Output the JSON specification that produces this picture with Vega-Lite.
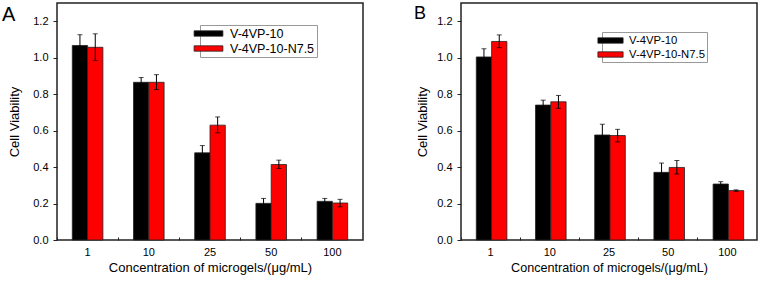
{
  "$schema": "https://vega.github.io/schema/vega-lite/v6.json",
  "padding": {"left": 1, "top": 2, "right": 2, "bottom": 0},
  "spacing": 49,
  "background": "white",
  "config": {
    "font": "Liberation Sans",
    "view": {"stroke": "#222", "strokeWidth": 1.5},
    "axis": {"domain": false, "grid": false, "labelColor": "#000", "titleColor": "#000", "tickColor": "#222", "labelFont": "Liberation Sans", "titleFont": "Liberation Sans", "titleFontWeight": "normal"},
    "axisY": {"labelOverlap": false, "titleFontSize": 13, "labelFontSize": 11, "labelPadding": 5,
      "values": [0, 0.1, 0.2, 0.3, 0.4, 0.5, 0.6, 0.7, 0.8, 0.9, 1.0, 1.1, 1.2],
      "labelExpr": "round(datum.value*10) % 2 == 0 ? format(datum.value, '.1f') : ''",
      "tickSize": {"condition": {"test": "round(datum.value*10) % 2 == 0", "value": 4}, "value": 2}},
    "title": {"font": "Liberation Sans", "fontWeight": "normal", "color": "#000"}
  },
  "resolve": {"scale": {"color": "independent", "y": "independent", "x": "independent"}, "legend": {"color": "independent"}},
  "hconcat": [
    {
      "width": 306,
      "height": 237,
      "title": {"text": "A", "anchor": "start", "frame": "group", "offset": -22, "dx": -55, "fontSize": 20},
      "data": {"values": [
        {"conc": "1", "series": "V-4VP-10", "value": 1.067, "lo": 1.008, "hi": 1.126},
        {"conc": "1", "series": "V-4VP-10-N7.5", "value": 1.057, "lo": 0.984, "hi": 1.131},
        {"conc": "10", "series": "V-4VP-10", "value": 0.865, "lo": 0.839, "hi": 0.891},
        {"conc": "10", "series": "V-4VP-10-N7.5", "value": 0.865, "lo": 0.825, "hi": 0.907},
        {"conc": "25", "series": "V-4VP-10", "value": 0.478, "lo": 0.438, "hi": 0.518},
        {"conc": "25", "series": "V-4VP-10-N7.5", "value": 0.63, "lo": 0.588, "hi": 0.675},
        {"conc": "50", "series": "V-4VP-10", "value": 0.201, "lo": 0.174, "hi": 0.228},
        {"conc": "50", "series": "V-4VP-10-N7.5", "value": 0.414, "lo": 0.392, "hi": 0.438},
        {"conc": "100", "series": "V-4VP-10", "value": 0.212, "lo": 0.196, "hi": 0.228},
        {"conc": "100", "series": "V-4VP-10-N7.5", "value": 0.203, "lo": 0.182, "hi": 0.223}
      ]},
      "encoding": {
        "x": {"field": "conc", "type": "nominal", "sort": ["1", "10", "25", "50", "100"],
          "scale": {"paddingInner": 0, "paddingOuter": 0},
          "axis": {"title": "Concentration of microgels/(μg/mL)", "labelAngle": 0, "labelFontSize": 11, "titleFontSize": 13, "labelPadding": 9, "titlePadding": 4, "bandPosition": 0, "tickSize": -3, "tickWidth": 1}},
        "xOffset": {"field": "series", "type": "nominal", "scale": {"paddingInner": 0, "paddingOuter": 1.45}}
      },
      "layer": [
        {
          "mark": {"type": "bar", "stroke": "#222", "strokeWidth": 0.8},
          "encoding": {
            "y": {"field": "value", "type": "quantitative", "scale": {"domain": [0, 1.3], "nice": false}, "axis": {"title": "Cell Viability", "titlePadding": 11, "labelOverlap": false}},
            "color": {"field": "series", "type": "nominal",
              "scale": {"domain": ["V-4VP-10", "V-4VP-10-N7.5"], "range": ["#000000", "#ff0000"]},
              "legend": {"title": null, "orient": "none", "legendX": 143, "legendY": 22, "symbolType": "M-2.4,-0.45H2.4V0.45H-2.4Z", "symbolSize": 144, "symbolStrokeColor": "#222", "symbolStrokeWidth": 0.8, "symbolOpacity": 1, "labelFontSize": 12.5, "labelColor": "#000", "labelOffset": 15, "rowPadding": 2, "padding": 2, "strokeColor": "#999", "fillColor": "white"}}
          }
        },
        {
          "mark": {"type": "rule", "color": "#000", "strokeWidth": 1},
          "encoding": {"y": {"field": "lo", "type": "quantitative", "axis": {"title": "Cell Viability", "titlePadding": 11, "labelOverlap": false}}, "y2": {"field": "hi"}}
        },
        {
          "mark": {"type": "tick", "color": "#000", "orient": "horizontal", "size": 5, "thickness": 1},
          "encoding": {"y": {"field": "hi", "type": "quantitative", "axis": {"title": "Cell Viability", "titlePadding": 11, "labelOverlap": false}}}
        },
        {
          "mark": {"type": "tick", "color": "#000", "orient": "horizontal", "size": 5, "thickness": 1},
          "encoding": {"y": {"field": "lo", "type": "quantitative", "axis": {"title": "Cell Viability", "titlePadding": 11, "labelOverlap": false}}}
        }
      ]
    },
    {
      "width": 296,
      "height": 237,
      "title": {"text": "B", "anchor": "start", "frame": "group", "offset": -20, "dx": -47, "fontSize": 18},
      "data": {"values": [
        {"conc": "1", "series": "V-4VP-10", "value": 1.004, "lo": 0.959, "hi": 1.049},
        {"conc": "1", "series": "V-4VP-10-N7.5", "value": 1.089, "lo": 1.055, "hi": 1.125},
        {"conc": "10", "series": "V-4VP-10", "value": 0.74, "lo": 0.713, "hi": 0.767},
        {"conc": "10", "series": "V-4VP-10-N7.5", "value": 0.758, "lo": 0.722, "hi": 0.793},
        {"conc": "25", "series": "V-4VP-10", "value": 0.576, "lo": 0.517, "hi": 0.635},
        {"conc": "25", "series": "V-4VP-10-N7.5", "value": 0.573, "lo": 0.538, "hi": 0.607},
        {"conc": "50", "series": "V-4VP-10", "value": 0.371, "lo": 0.32, "hi": 0.422},
        {"conc": "50", "series": "V-4VP-10-N7.5", "value": 0.398, "lo": 0.362, "hi": 0.436},
        {"conc": "100", "series": "V-4VP-10", "value": 0.307, "lo": 0.294, "hi": 0.32},
        {"conc": "100", "series": "V-4VP-10-N7.5", "value": 0.271, "lo": 0.267, "hi": 0.275}
      ]},
      "encoding": {
        "x": {"field": "conc", "type": "nominal", "sort": ["1", "10", "25", "50", "100"],
          "scale": {"paddingInner": 0, "paddingOuter": 0},
          "axis": {"title": "Concentration of microgels/(μg/mL)", "labelAngle": 0, "labelFontSize": 11, "titleFontSize": 12.6, "labelPadding": 9, "titlePadding": 4, "bandPosition": 0, "tickSize": -3, "tickWidth": 1}},
        "xOffset": {"field": "series", "type": "nominal", "scale": {"paddingInner": 0, "paddingOuter": 1.4}}
      },
      "layer": [
        {
          "mark": {"type": "bar", "stroke": "#222", "strokeWidth": 0.8},
          "encoding": {
            "y": {"field": "value", "type": "quantitative", "scale": {"domain": [0, 1.3], "nice": false}, "axis": {"title": "Cell Viability", "titlePadding": 7, "labelOverlap": false}},
            "color": {"field": "series", "type": "nominal",
              "scale": {"domain": ["V-4VP-10", "V-4VP-10-N7.5"], "range": ["#000000", "#ff0000"]},
              "legend": {"title": null, "orient": "none", "legendX": 141, "legendY": 29, "symbolType": "M-2.1,-0.45H2.1V0.45H-2.1Z", "symbolSize": 144, "symbolStrokeColor": "#222", "symbolStrokeWidth": 0.8, "symbolOpacity": 1, "labelFontSize": 11.3, "labelColor": "#000", "labelOffset": 12, "rowPadding": 2, "padding": 2, "strokeColor": "#999", "fillColor": "white"}}
          }
        },
        {
          "mark": {"type": "rule", "color": "#000", "strokeWidth": 1},
          "encoding": {"y": {"field": "lo", "type": "quantitative", "axis": {"title": "Cell Viability", "titlePadding": 7, "labelOverlap": false}}, "y2": {"field": "hi"}}
        },
        {
          "mark": {"type": "tick", "color": "#000", "orient": "horizontal", "size": 5, "thickness": 1},
          "encoding": {"y": {"field": "hi", "type": "quantitative", "axis": {"title": "Cell Viability", "titlePadding": 7, "labelOverlap": false}}}
        },
        {
          "mark": {"type": "tick", "color": "#000", "orient": "horizontal", "size": 5, "thickness": 1},
          "encoding": {"y": {"field": "lo", "type": "quantitative", "axis": {"title": "Cell Viability", "titlePadding": 7, "labelOverlap": false}}}
        }
      ]
    }
  ]
}
